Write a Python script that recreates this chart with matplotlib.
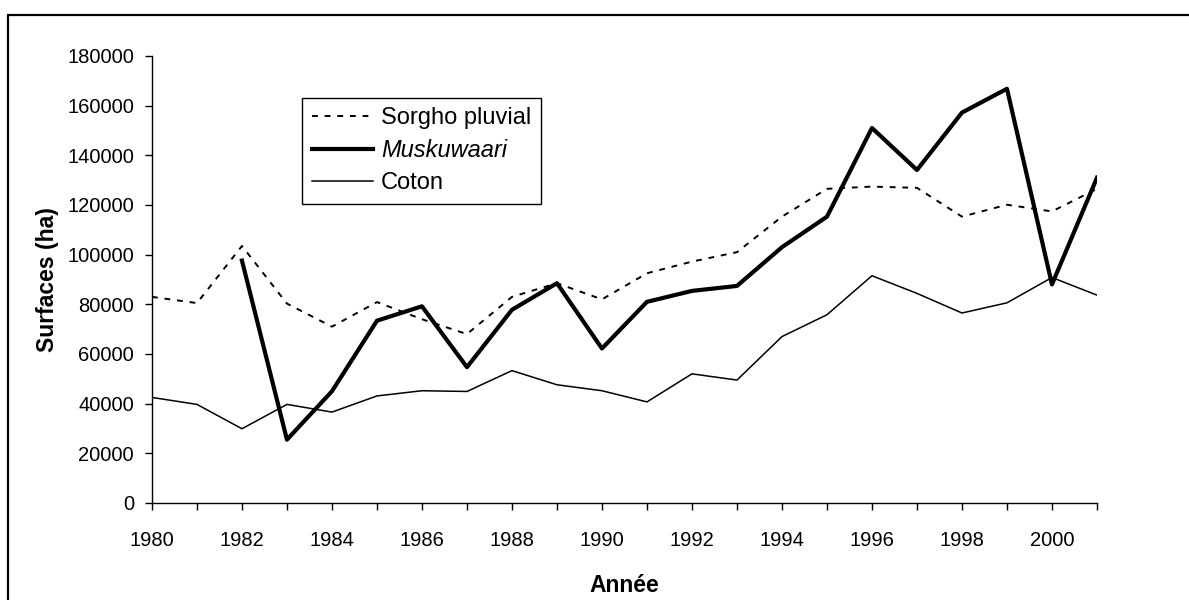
import numpy as np
from matplotlib import pyplot as plt
from matplotlib.patches import Rectangle

plt.rcParams['font.family'] = ['Liberation Sans', 'DejaVu Sans']

# data
years = np.arange(1980, 2002)
sorgho = [83000, 80500, 103500, 80300, 71000, 80900, 74000, 68000, 83000, 88500,
          82000, 92500, 97200, 101000, 115300, 126500, 127400, 126900, 115300, 120100,
          117400, 126500]
muskuwaari = [np.nan, np.nan, 97600, 25500, 45000, 73400, 79200, 54700, 77800, 88500,
              62200, 81000, 85400, 87400, 103000, 115300, 151000, 134100, 157200, 166800,
              88000, 131000]
coton = [42500, 39700, 29900, 39700, 36600, 43100, 45200, 44900, 53300, 47600,
         45200, 40700, 52000, 49500, 67000, 75800, 91500, 84400, 76500, 80600,
         90800, 83700]
year_ticks = np.arange(1980, 2001, 2)
y_ticks = np.arange(0, 180001, 20000)

fig = plt.figure(figsize=(11.89, 6), dpi=100)
ax = fig.add_axes([0.1278, 0.1617, 0.7948, 0.745])

ax.plot(years, sorgho, color='black', lw=1.4, linestyle=(0, (3, 3.5)), label='Sorgho pluvial')
ax.plot(years, muskuwaari, color='black', lw=3.0, label='Muskuwaari')
ax.plot(years, coton, color='black', lw=1.1, label='Coton')

ax.set_xlim(1980, 2001)
ax.set_ylim(0, 180000)
ax.set_xticks(years)
ax.set_xticklabels([str(y) if y in year_ticks else '' for y in years])
ax.set_yticks(y_ticks)
ax.set_yticklabels([str(v) for v in y_ticks])
ax.tick_params(axis='x', direction='out', length=5, width=1, pad=15, labelsize=14.5)
ax.tick_params(axis='y', direction='out', length=5, width=1, pad=8, labelsize=14.5)

for side in ['top', 'right']:
    ax.spines[side].set_visible(False)
for side in ['left', 'bottom']:
    ax.spines[side].set_linewidth(1)

ax.set_xlabel('Année', fontsize=16.5, fontweight='bold')
ax.set_ylabel('Surfaces (ha)', fontsize=16.5, fontweight='bold')
ax.xaxis.set_label_coords(0.5, -0.158)
ax.yaxis.set_label_coords(-0.098, 0.5)

leg = ax.legend(loc='upper left', bbox_to_anchor=(0.159, 0.906), fontsize=17,
                frameon=True, fancybox=False, edgecolor='black', framealpha=1,
                handlelength=2.6, handletextpad=0.33, borderpad=0.4, labelspacing=0.42,
                borderaxespad=0)
leg.get_frame().set_linewidth(1)
leg.get_texts()[1].set_fontstyle('italic')

# outer border of the chart area
fig.add_artist(Rectangle((8 / 1189, -0.1), 2, (585 / 600) + 0.1, transform=fig.transFigure,
                         fill=False, lw=1.6, edgecolor='black'))

fig.savefig('out.png', dpi=100)
